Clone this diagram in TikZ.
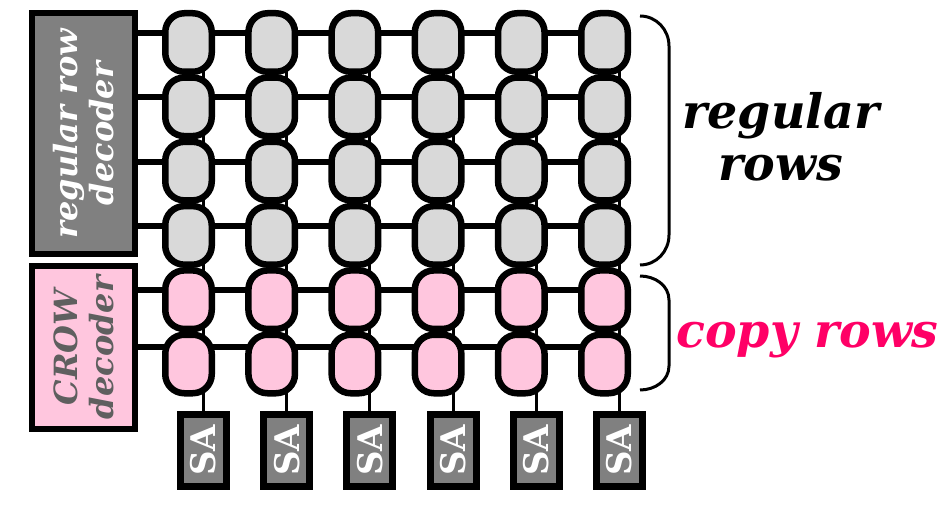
\documentclass[tikz,border=0pt]{standalone}
\usepackage{fontspec}
\setmainfont{DejaVu Serif}
\usetikzlibrary{positioning}
\definecolor{CellGray}{HTML}{D9D9D9}
\definecolor{CellPink}{HTML}{FFC6DE}
\definecolor{DecGray}{HTML}{808080}
\definecolor{CrowInk}{HTML}{5F5F5F}
\definecolor{CopyPink}{HTML}{FF0066}

\begin{document}
\begin{tikzpicture}[x=1pt,y=-1pt,
  decbox/.style={draw=black,line width=6pt,minimum width=103pt,inner sep=0pt},
  declabel/.style={rotate=90,align=center,font=\fontsize{32}{36}\selectfont\bfseries\itshape},
  cell/.style={draw=black,line width=6.5pt,fill=CellGray,rounded corners=19pt,minimum width=46.5pt,minimum height=58.5pt,inner sep=0pt},
  copycell/.style={cell,fill=CellPink},
  sabox/.style={draw=black,line width=7pt,fill=DecGray,minimum width=46pt,minimum height=72pt,inner sep=0pt},
  salabel/.style={rotate=90,text=white,font=\fontsize{34}{34}\selectfont\bfseries},
  wordline/.style={line width=6pt},
  bitline/.style={line width=3pt},
  bracket/.style={line width=3pt},
  rowlabel/.style={align=center,font=\fontsize{47.5}{52}\selectfont\bfseries\itshape}
]
\useasboundingbox (0,0) rectangle (937,513);

% sense amplifiers and bitlines
\foreach \c in {1,...,6}{
  \pgfmathsetmacro{\cx}{188.5+83.2*(\c-1)}
  \coordinate (bt\c) at (\cx+15,42.5);
  \node[sabox] (sa\c) at (\cx+15,450.5) {};
  \draw[bitline] (bt\c) -- (sa\c);
  \node[salabel] at (sa\c) {SA};
}

% decoders
\node[decbox,fill=DecGray,minimum height=241pt] (regdec) at (83.5,133.5) {};
\node[decbox,fill=CellPink,minimum height=163pt] (crowdec) at (83.5,347.5) {};

% wordlines
\foreach \r/\wy in {1/33,2/97,3/162,4/226,5/290,6/347}{
  \coordinate (wl\r) at (135,\wy);
  \coordinate (we\r) at (604.5,\wy);
  \draw[wordline] (wl\r) -- (we\r);
}

% cells
\foreach \r in {1,...,6}{
  \foreach \c in {1,...,6}{
    \pgfmathsetmacro{\cx}{188.5+83.2*(\c-1)}
    \pgfmathsetmacro{\cy}{42.5+64.3*(\r-1)}
    \ifnum\r>4
      \node[copycell] (c\r\c) at (\cx,\cy) {};
    \else
      \node[cell] (c\r\c) at (\cx,\cy) {};
    \fi
  }
}

% decoder labels
\node[declabel,text=white] (reglab) at (regdec) {regular row\\decoder};
\node[declabel,text=CrowInk] (crowlab) at (crowdec) {CROW\\decoder};

% brackets
\draw[bracket] (640,16) to[out=0,in=90] (669,46) -- (669,235) to[out=-90,in=0] (640,265);
\draw[bracket] (640,276) to[out=0,in=90] (669,300) -- (669,366) to[out=-90,in=0] (640,390);

% row labels
\node[rowlabel] (regrows) at (781,137) {regular\\rows};
\node[rowlabel,text=CopyPink,anchor=base] (copyrows) at (807.5,347) {copy rows};
\end{tikzpicture}
\end{document}
